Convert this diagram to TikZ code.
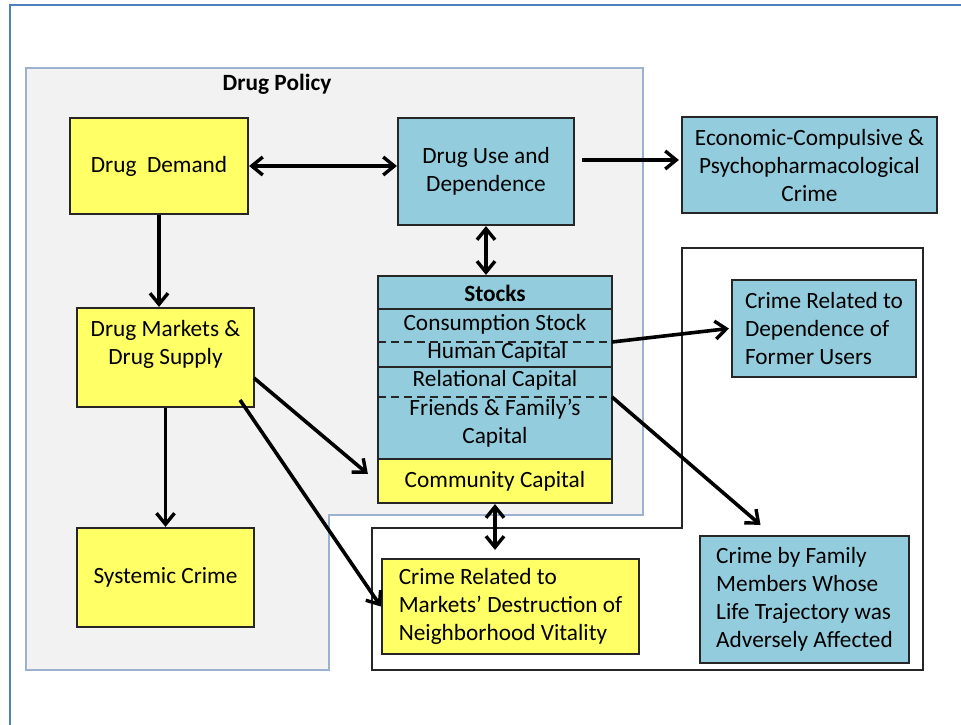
\documentclass[tikz,border=0pt]{standalone}
\usepackage{fontspec}
\setmainfont{Carlito}
\usetikzlibrary{arrows.meta}

\definecolor{boxyellow}{HTML}{FFFF66}
\definecolor{boxblue}{HTML}{93CDDD}
\definecolor{policygrey}{HTML}{F2F2F2}
\definecolor{policyline}{HTML}{9BB1CF}
\definecolor{frameblue}{HTML}{4F81BD}
\definecolor{edgegrey}{HTML}{262626}

\tikzset{
  boxtext/.style={font=\fontsize{23.3}{28}\selectfont, text=black},
  crimebox/.style={boxtext, draw=edgegrey, line width=2.2pt, inner sep=0pt},
  yellowbox/.style={crimebox, fill=boxyellow},
  bluebox/.style={crimebox, fill=boxblue},
  arr/.style={-{Straight Barb[length=11pt,width=18pt,line width=3.4pt]}, line width=3.6pt},
  dbl/.style={{Straight Barb[length=11pt,width=18pt,line width=3.4pt]}-{Straight Barb[length=11pt,width=18pt,line width=3.4pt]}, line width=3.6pt},
  stockline/.style={draw=edgegrey, line width=2.2pt},
  stockdash/.style={draw=edgegrey, line width=1.8pt, dash pattern=on 8pt off 5pt}
}

\begin{document}
\begin{tikzpicture}[x=1pt, y=-1pt]

 \useasboundingbox (0,0) rectangle (961,725);

 %%%%%%%%%% Cadre %%%%%%%%%%
 \draw[frameblue, line width=2pt] (10,725) -- (10,5) -- (961,5);

 %%%%%%%%%% Drug policy region %%%%%%%%%%
 \filldraw[fill=policygrey, draw=policyline, line width=2pt] (26,68) -- (643,68) -- (643,515) -- (329,515) -- (329,670) -- (26,670) -- cycle;
 \node[boxtext, font=\fontsize{23.3}{28}\selectfont\bfseries] (policytitle) at (277,84) {Drug Policy};

 %%%%%%%%%% Crime region %%%%%%%%%%
 \draw[edgegrey, line width=2.2pt] (682,248) -- (923,248) -- (923,670) -- (372,670) -- (372,528) -- (682,528) -- cycle;

 %%%%%%%%%% Boxes %%%%%%%%%%
 \node[yellowbox, minimum width=178pt, minimum height=96pt] (demand) at (159,166) {Drug\ \ Demand};
 \node[bluebox, minimum width=176pt, minimum height=107pt, align=center] (use) at (486,171.5) {Drug Use and\\Dependence};
 \node[bluebox, minimum width=255pt, minimum height=96pt, align=center] (econ) at (809.5,165) {Economic-Compulsive \&\\Psychopharmacological\\Crime};
 \node[yellowbox, minimum width=177pt, minimum height=99pt,
       label={[boxtext, align=center, yshift=13.5pt]center:{Drug Markets \&\\Drug Supply}}] (markets) at (165.5,357.5) {};
 \node[yellowbox, minimum width=177pt, minimum height=99pt] (systemic) at (165.5,577.5) {Systemic Crime};

 % Stocks
 \node[bluebox, minimum width=234pt, minimum height=183pt] (stocks) at (495,367.5) {};
 \node[yellowbox, minimum width=234pt, minimum height=44pt] (community) at (495,481) {Community Capital};
 \draw[stockline] (378,309) -- (612,309);
 \draw[stockdash] (378,342) -- (612,342);
 \draw[stockline] (378,367) -- (612,367);
 \draw[stockdash] (378,397) -- (612,397);
 \node[boxtext, font=\fontsize{23.3}{28}\selectfont\bfseries] (stocktitle) at (495,293) {Stocks};
 \node[boxtext] (consumption) at (495,324) {Consumption Stock};
 \node[boxtext] (human) at (497,352) {Human Capital};
 \node[boxtext] (relational) at (495,380) {Relational Capital};
 \node[boxtext, align=center] (friends) at (495,423.5) {Friends \& Family’s\\Capital};

 % Crimes
 \node[bluebox, minimum width=184pt, minimum height=97pt, align=left] (former) at (824,328.5) {Crime Related to\\Dependence of\\Former Users};
 \node[bluebox, minimum width=209pt, minimum height=127pt, align=left] (family) at (804.5,599.5) {Crime by Family\\Members Whose\\Life Trajectory was\\Adversely Affected};
 \node[yellowbox, minimum width=257pt, minimum height=95pt, align=left] (markcrime) at (510.5,606.5) {Crime Related to\\Markets’ Destruction of\\Neighborhood Vitality};

 %%%%%%%%%% Arrows %%%%%%%%%%
 \coordinate (usehead) at (582,160);
 \coordinate (marketsout) at (254,378);
 \coordinate (marketsfoot) at (240,400);
 \coordinate (consumptionline) at (612,342);
 \coordinate (relationalline) at (612,397);

 \draw[dbl] (demand.east) -- (demand.east -| use.west);
 \draw[arr] (usehead) -- ([xshift=-2pt]usehead -| econ.west);
 \draw[dbl] (use.south) -- (use.south |- stocks.north);
 \draw[arr] (demand.south) -- (demand.south |- markets.north);
 \draw[arr] (markets.south) -- (systemic.north);
 \draw[arr] (marketsout) -- ([shift={(-9,-7)}]community.west);
 \draw[arr] (marketsfoot) -- (markcrime.west);
 \draw[arr] (consumptionline) -- ([xshift=-2pt]former.west);
 \draw[arr] (relationalline) -- ([shift={(-44,-10)}]family.north);
 \draw[dbl] (community.south) -- ([yshift=8pt]community.south |- markcrime.north);

\end{tikzpicture}
\end{document}
